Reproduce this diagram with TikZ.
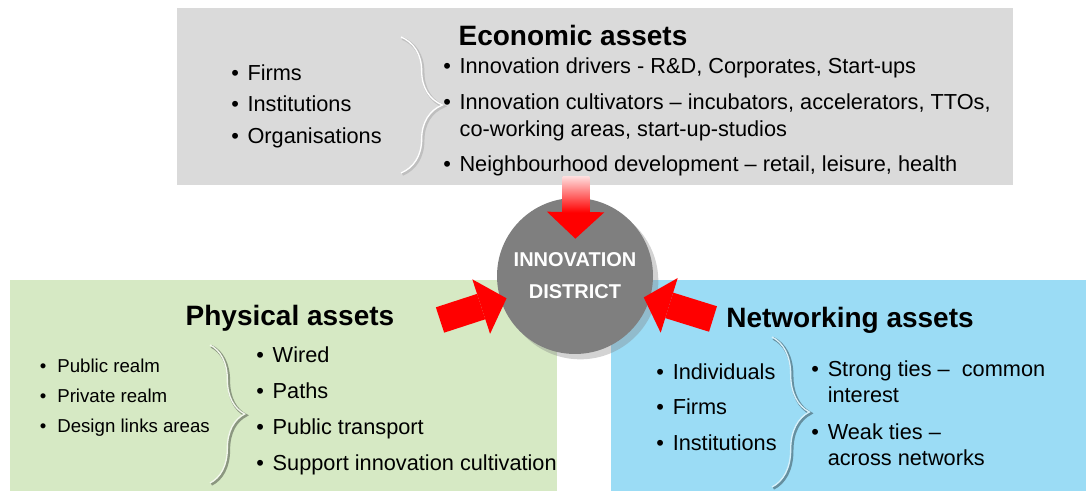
\documentclass[tikz,border=0pt]{standalone}
\usepackage{fontspec}
\setmainfont{Liberation Sans}
\usepackage{xcolor}
\usepackage{tikz}
\usetikzlibrary{arrows.meta,decorations.pathreplacing,shadows}

\definecolor{econgrey}{RGB}{218,218,218}
\definecolor{physgreen}{RGB}{214,233,196}
\definecolor{netblue}{RGB}{155,220,245}
\definecolor{hubgrey}{RGB}{127,127,127}

\newcommand{\blt}[1][0.75em]{\makebox[#1][l]{•}}

\begin{document}
\begin{tikzpicture}[x=0.75pt, y=-0.75pt,
  every node/.style={inner sep=0pt, anchor=base west},
  item/.style={font=\fontsize{16.3}{19}\selectfont},
  small/.style={font=\fontsize{14}{17}\selectfont},
  heading/.style={anchor=base, font=\fontsize{21}{25}\selectfont\bfseries},
  hub/.style={circle, anchor=center, fill=hubgrey, text=white, minimum size=117pt, align=center,
    font=\fontsize{15}{24}\selectfont\bfseries,
    drop shadow={shadow xshift=4pt, shadow yshift=-4pt, opacity=.35}},
  push/.style={red, line width=20pt, -{Triangle[length=20pt, width=43pt, line width=0pt]}},
  curly/.style={decorate, decoration={brace, amplitude=#1}}]

\useasboundingbox (0,0) rectangle (1086,491);

% Panels
\fill[econgrey] (177,8) rectangle (1013,185);
\fill[physgreen] (10,280) rectangle (557,491);
\fill[netblue] (611,280) rectangle (1086,491);

% Braces
\draw[curly=31pt, black!25, line width=2.2pt, xshift=1pt, yshift=-1pt] (401,37) -- (401,173);
\draw[curly=31pt, white, line width=1pt] (401,37) -- (401,173);
\draw[curly=26pt, physgreen!65!black, line width=2.2pt, xshift=1pt, yshift=-1pt] (210,345) -- (210,483);
\draw[curly=26pt, white!70!physgreen, line width=1pt] (210,345) -- (210,483);
\draw[curly=28pt, netblue!65!black, line width=2.2pt, xshift=1pt, yshift=-1pt] (772,337) -- (772,487);
\draw[curly=28pt, white!60!netblue, line width=1pt] (772,337) -- (772,487);

% Economic assets
\node[heading] (econtitle) at (573,46) {Economic assets};
\node[item] (efirms) at (231,81) {\blt Firms};
\node[item] (einst) at (231,112) {\blt Institutions};
\node[item] (eorg) at (231,144) {\blt Organisations};
\node[item] (edrive) at (443,74) {\blt Innovation drivers - R\&D, Corporates, Start-ups};
\node[item] (ecult) at (443,110) {\blt Innovation cultivators – incubators, accelerators, TTOs,};
\node[item] (ecult2) at (459.4,137) {co-working areas, start-up-studios};
\node[item] (ehood) at (443,172) {\blt Neighbourhood development – retail, leisure, health};

% Physical assets
\node[heading] (phystitle) at (290,326) {Physical assets};
\node[small] (ppublic) at (39.7,373) {\blt[0.93em]Public realm};
\node[small] (pprivate) at (39.7,403) {\blt[0.93em]Private realm};
\node[small] (pdesign) at (39.7,433) {\blt[0.93em]Design links areas};
\node[item] (pwired) at (256.2,363) {\blt Wired};
\node[item] (ppaths) at (256.2,399) {\blt Paths};
\node[item] (ptrans) at (256.2,435) {\blt Public transport};
\node[item] (psupp) at (256.2,471) {\blt Support innovation cultivation};

% Networking assets
\node[heading] (nettitle) at (850,328) {Networking assets};
\node[item] (nindiv) at (656.2,380) {\blt Individuals};
\node[item] (nfirms) at (656.2,415) {\blt Firms};
\node[item] (ninst) at (656.2,451) {\blt Institutions};
\node[item] (nstrong) at (811.2,377) {\blt Strong ties –\ \ common};
\node[item] (nstrong2) at (827.5,403) {interest};
\node[item] (nweak) at (811.2,440) {\blt Weak ties –};
\node[item] (nweak2) at (827.5,466) {across networks};

% Hub
\node[hub] (district) at (575,276) {INNOVATION\\DISTRICT};

% Arrows
\coordinate (econ) at (576,177);
\coordinate (phys) at (440,320);
\coordinate (net) at (713,319);
\draw[push, shorten >=28pt] (econ) -- (district.center);
\shade[top color=red!15!white, bottom color=red] (562.7,177) rectangle (589.3,212.5);
\draw[push, shorten >=54pt] (phys) -- (district.center);
\draw[push, shorten >=54pt] (net) -- (district.center);
\end{tikzpicture}
\end{document}
